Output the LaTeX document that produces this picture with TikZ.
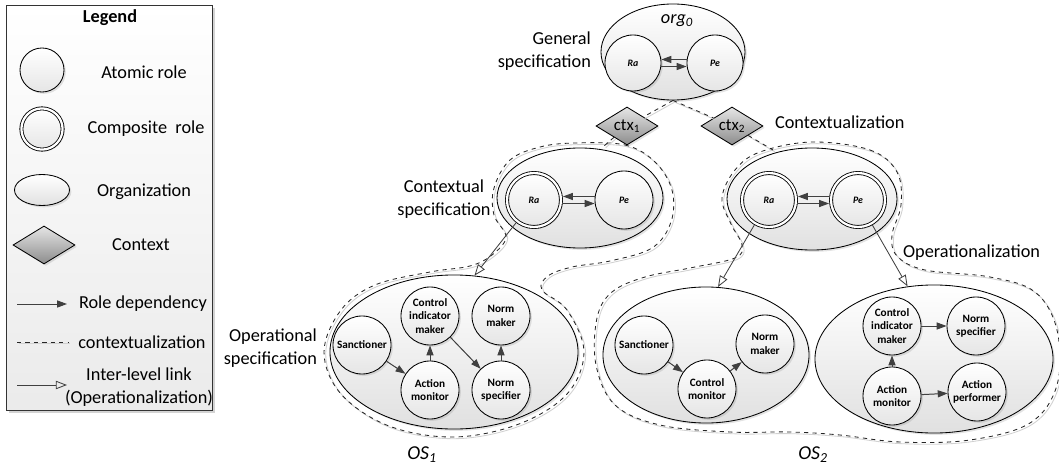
\documentclass[tikz,border=0pt]{standalone}
\usepackage{fontspec}
\setmainfont{Carlito}
\usetikzlibrary{shapes,arrows.meta,shadows,positioning}

\tikzset{
	lbl/.style={font=\fontsize{13}{16}\selectfont, align=center},
	soft/.style={drop shadow={opacity=0.22, shadow xshift=1.3pt, shadow yshift=-1.3pt}},
	role/.style={circle, draw, minimum size=1.45cm, inner sep=0pt, align=center, top color=white, bottom color=black!10, soft, font=\fontsize{8}{9.5}\selectfont\bfseries},
	comprole/.style={role, double, double distance=1.6pt, outer sep=1.4pt, minimum size=1.35cm},
	rp/.style={font=\fontsize{7}{8}\selectfont\bfseries\itshape},
	orga/.style={ellipse, draw, inner sep=0pt, top color=white, bottom color=black!12, soft},
	ctx/.style={diamond, draw, aspect=1.6, inner sep=0pt, minimum width=1.55cm, minimum height=0.95cm, top color=black!10, bottom color=black!45, soft, font=\fontsize{12}{14}\selectfont},
	dep/.style={-{Triangle[length=7pt,width=5pt]}, draw=black!75, fill=black!75, line width=0.7pt},
	inter/.style={-{Triangle[open,length=8pt,width=6pt]}, draw=black!75},
	ctxline/.style={dashed, draw=black!85, preaction={draw=black!18, solid, transform canvas={shift={(1.2pt,-1.2pt)}}}},
	legendbox/.style={draw=black!80, top color=white, bottom color=black!8, drop shadow={opacity=0.35, shadow xshift=2pt, shadow yshift=-2pt}}
}

\begin{document}
\begin{tikzpicture}[x=0.025cm, y=-0.025cm, line width=0.6pt]
	%\draw[help lines] (0,0) grid (1059,466);
	\useasboundingbox (0,0) rectangle (1059,466);

	% legend
	\draw[legendbox] (6,5) rectangle (212,410);
	\node[lbl, font=\fontsize{13}{16}\selectfont\bfseries] (lgtitle) at (110,18) {Legend};
	\node[role, minimum size=1.1cm] (lgatom) at (42,70) {};
	\node[lbl] (lgatomtxt) at (144,72) {Atomic role};
	\node[comprole, minimum size=1.03cm] (lgcomp) at (42,129) {};
	\node[lbl] (lgcomptxt) at (146,129) {Composite~~role};
	\node[orga, minimum width=1.375cm, minimum height=0.775cm] (lgorg) at (42,190) {};
	\node[lbl] (lgorgtxt) at (144,192) {Organization};
	\node[ctx] (lgctx) at (44,245) {};
	\node[lbl] (lgctxtxt) at (141,245) {Context};
	\coordinate (lgdepA) at (17,304);
	\coordinate (lgdepB) at (67,304);
	\draw[dep] (lgdepA) -- (lgdepB);
	\node[lbl] (lgdeptxt) at (143,304) {Role dependency};
	\coordinate (lgctxA) at (17,342);
	\coordinate (lgctxB) at (68,342);
	\draw[ctxline] (lgctxA) -- (lgctxB);
	\node[lbl] (lgctxltxt) at (142,342) {contextualization};
	\coordinate (lginterA) at (17,385);
	\coordinate (lginterB) at (67,385);
	\draw[inter] (lginterA) -- (lginterB);
	\node[lbl] (lgintertxt) at (139,387) {Inter-level link\\(Operationalization)};

	% contextualization outlines
	\draw[ctxline] plot[smooth cycle, tension=0.6] coordinates {(575,143) (625,145) (655,162) (672,190) (671,222) (652,248) (610,261) (572,267) (548,276) (542,290) (567,310) (584,352) (567,394) (519,424) (454,437) (389,426) (341,394) (324,352) (341,310) (375,285) (430,272) (470,266) (492,255) (506,237) (494,215) (494,188) (510,160) (540,147)};
	\draw[ctxline] plot[smooth cycle, tension=0.6] coordinates {(812,142) (870,150) (897,172) (901,205) (892,235) (897,256) (925,270) (990,277) (1035,292) (1057,330) (1057,385) (1030,423) (970,440) (900,442) (840,435) (790,432) (730,432) (660,425) (615,405) (596,365) (597,318) (612,292) (645,277) (690,268) (735,258) (742,245) (731,224) (722,198) (735,170) (760,152)};

	% organizations
	\node[orga, minimum width=3.6cm, minimum height=2.4cm] (org0) at (673,52) {};
	\node[orga, minimum width=4.15cm, minimum height=2.5cm] (ctxspec) at (580,198) {};
	\node[orga, minimum width=4.25cm, minimum height=2.55cm] (opspec) at (812,199) {};
	\node[orga, minimum width=6.2cm, minimum height=3.85cm] (os1) at (454,352) {};
	\node[orga, minimum width=5.15cm, minimum height=3.4cm] (os2a) at (706,355) {};
	\node[orga, minimum width=5.95cm, minimum height=3.7cm] (os2b) at (934,359) {};

	\node[lbl, font=\fontsize{13}{16}\selectfont\itshape] (org0lbl) at (677,21) {org\textsubscript{0}};
	\node[lbl, font=\fontsize{14}{16}\selectfont\itshape] (os1lbl) at (422,455) {OS\textsubscript{1}};
	\node[lbl, font=\fontsize{14}{16}\selectfont\itshape] (os2lbl) at (813,455) {OS\textsubscript{2}};

	% contexts
	\node[ctx] (ctx1) at (627,126) {ctx\textsubscript{1}};
	\node[ctx] (ctx2) at (732,126) {ctx\textsubscript{2}};
	\coordinate (c1) at (604,146);
	\coordinate (c2) at (773,150);
	\draw[ctxline] (org0.south) -- (ctx1);
	\draw[ctxline] (ctx1) -- (c1);
	\draw[ctxline] (org0.south) -- (ctx2);
	\draw[ctxline] (ctx2) -- (c2);

	% general specification
	\node[role, minimum size=1.4cm, rp] (ra0) at (633,63) {Ra};
	\node[role, minimum size=1.4cm, rp] (pe0) at (715,63) {Pe};
	\draw[dep] ([yshift=2.5pt]pe0.west) -- ([yshift=2.5pt]ra0.east);
	\draw[dep] ([yshift=-2.5pt]ra0.east) -- ([yshift=-2.5pt]pe0.west);

	% contextual specifications
	\node[comprole, rp] (ra1) at (534,200) {Ra};
	\node[role, rp] (pe1) at (624,200) {Pe};
	\draw[dep] ([yshift=2.5pt]pe1.west) -- ([yshift=2.5pt]ra1.east);
	\draw[dep] ([yshift=-2.5pt]ra1.east) -- ([yshift=-2.5pt]pe1.west);

	\node[comprole, rp] (ra2) at (769,200) {Ra};
	\node[comprole, rp] (pe2) at (858,200) {Pe};
	\draw[dep] ([yshift=2.5pt]pe2.west) -- ([yshift=2.5pt]ra2.east);
	\draw[dep] ([yshift=-2.5pt]ra2.east) -- ([yshift=-2.5pt]pe2.west);

	% operational specifications
	\node[role] (sanc1) at (362,345) {Sanctioner};
	\node[role] (cim1) at (430,316) {Control\\indicator\\maker};
	\node[role] (nm1) at (501,316) {Norm\\maker};
	\node[role] (am1) at (430,390) {Action\\monitor};
	\node[role] (ns1) at (501,390) {Norm\\specifier};
	\draw[dep] (sanc1) -- (am1);
	\draw[dep] (am1) -- (cim1);
	\draw[dep] (cim1) -- (ns1);
	\draw[dep] (ns1) -- (nm1);

	\node[role] (sanc2) at (644,345) {Sanctioner};
	\node[role] (cm2) at (707,389) {Control\\monitor};
	\node[role] (nm2) at (765,344) {Norm\\maker};
	\draw[dep] (sanc2) -- (cm2);
	\draw[dep] (cm2) -- (nm2);

	\node[role] (cim2) at (892,326) {Control\\indicator\\maker};
	\node[role] (ns2) at (976,326) {Norm\\specifier};
	\node[role] (am2) at (892,396) {Action\\monitor};
	\node[role] (ap2) at (977,392) {Action\\performer};
	\draw[dep] (cim2) -- (ns2);
	\draw[dep] (am2) -- (cim2);
	\draw[dep] (am2) -- (ap2);

	% inter-level links
	\draw[inter] (ra1) -- (os1.75);
	\draw[inter] (ra2) -- (os2a.80);
	\draw[inter] (pe2) -- (os2b.110);

	% level labels
	\node[lbl, anchor=east, align=right] (gentxt) at (596,51) {General\\specification};
	\node[lbl] (ctxspectxt) at (444,199) {Contextual\\specification};
	\node[lbl, anchor=east, align=right] (opspectxt) at (322,348) {Operational\\specification};
	\node[lbl, anchor=west] (ctxztxt) at (770,122) {Contextualization};
	\node[lbl, anchor=west] (optxt) at (898,253) {Operationalization};
\end{tikzpicture}
\end{document}
